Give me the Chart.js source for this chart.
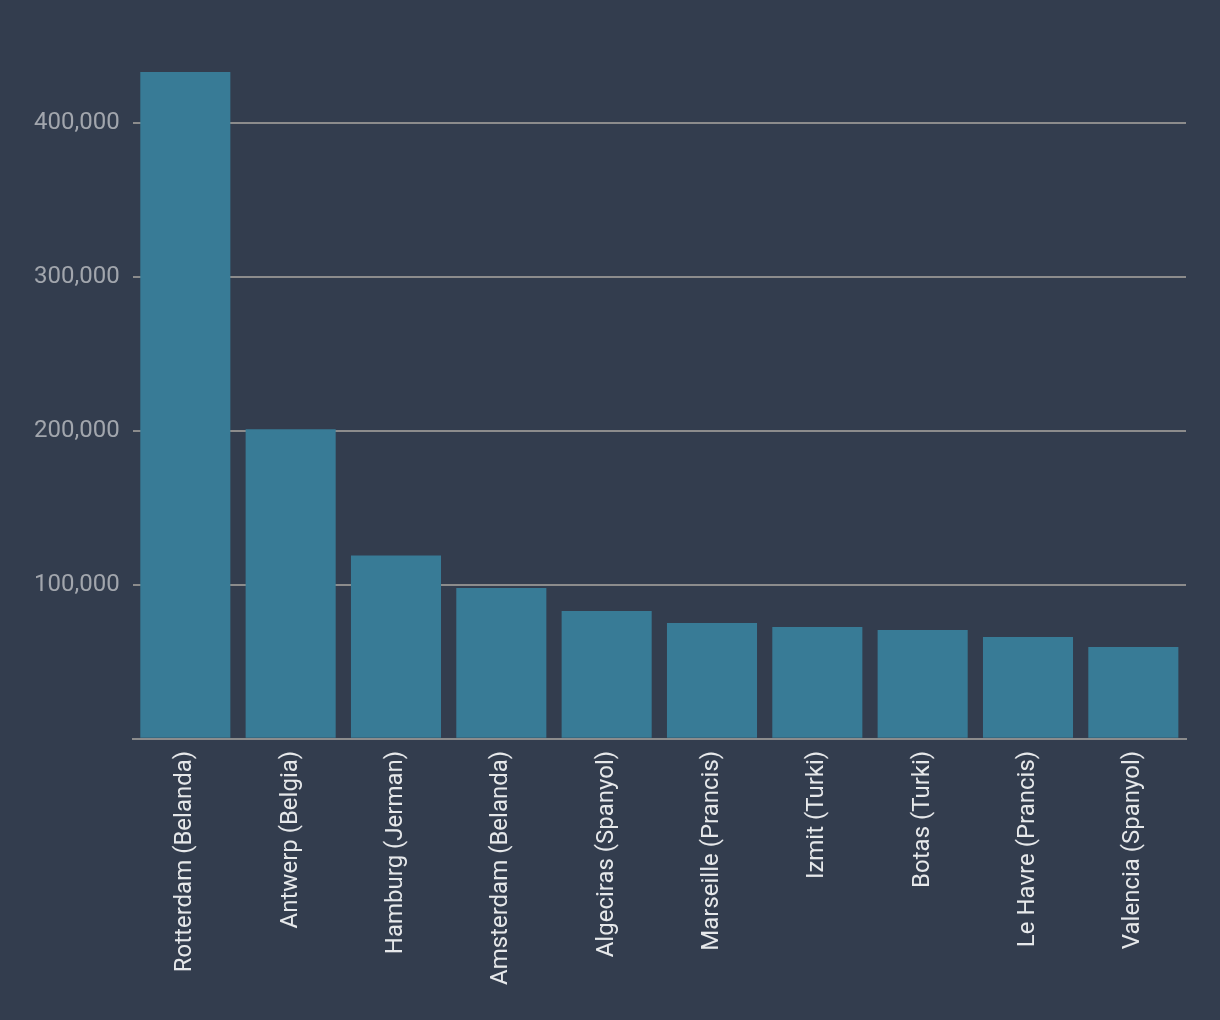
<!DOCTYPE html>
<html>
<head>
<meta charset="utf-8">
<script src="https://cdn.jsdelivr.net/npm/chart.js@4"></script>
<style>
  html, body { margin: 0; padding: 0; background: #333d4e; }
  #wrap { width: 1220px; height: 1020px; }
</style>
</head>
<body>
<div id="wrap"><canvas id="portChart"></canvas></div>
<script>
var ports = [
    "Rotterdam (Belanda)", "Antwerp (Belgia)", "Hamburg (Jerman)", "Amsterdam (Belanda)",
    "Algeciras (Spanyol)", "Marseille (Prancis)", "Izmit (Turki)", "Botas (Turki)",
    "Le Havre (Prancis)", "Valencia (Spanyol)"
];
var volumes = [433000, 201000, 119000, 98000, 83000, 75300, 72700, 70700, 66200, 59700];
var yTicks = [0, 100000, 200000, 300000, 400000];

Chart.defaults.font.family = 'Roboto, "Noto Sans", sans-serif';

var ctx = document.getElementById("portChart").getContext('2d');
var portChart = new Chart(ctx, {
    type: 'bar',
    data: {
        labels: ports,
        datasets: [{
            label: "Volume",
            data: volumes,
            backgroundColor: "#387b96",
            borderWidth: 0,
            categoryPercentage: 1,
            barPercentage: 0.855
        }]
    },
    options: {
        responsive: true,
        maintainAspectRatio: false,
        animation: false,
        layout: {
            padding: { top: 72, right: 34, bottom: 23, left: 21 }
        },
        scales: {
            x: {
                grid: { display: false, drawTicks: false },
                border: { color: "#8c8c8c", width: 2 },
                ticks: {
                    color: "#e6e8ea",
                    font: { size: 24 },
                    maxRotation: 90,
                    minRotation: 90,
                    padding: 12
                }
            },
            y: {
                bounds: 'data',
                beginAtZero: true,
                afterBuildTicks: function (axis) {
                    axis.ticks = yTicks.map(function (v) { return { value: v }; });
                },
                grid: { color: "#8c8c8c", lineWidth: 2, drawTicks: false },
                border: { display: false },
                ticks: {
                    color: "#a2a6ad",
                    font: { size: 24 },
                    padding: 13,
                    callback: function (v) {
                        return v === 0 ? '' : v.toLocaleString('en-US');
                    }
                }
            }
        },
        plugins: {
            legend: { display: false },
            tooltip: { enabled: false }
        }
    }
});
</script>
</body>
</html>
